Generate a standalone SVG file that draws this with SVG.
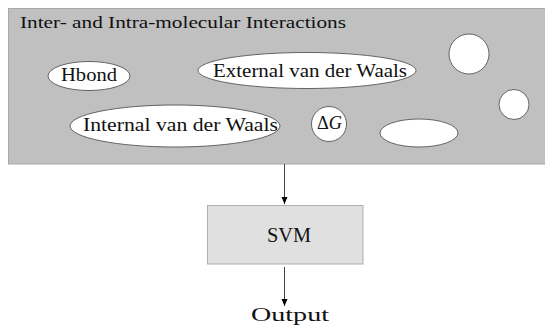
<svg xmlns="http://www.w3.org/2000/svg" width="545" height="325" viewBox="0 0 545 325" font-family="'Liberation Serif', 'DejaVu Serif', serif">
<style>
text{font-family:'Liberation Serif','DejaVu Serif',serif;fill:#111}
.oval{fill:#fff;stroke:#444;stroke-width:0.8}
.conn{stroke:#444;stroke-width:1;fill:none}
</style>
<defs>
<marker id="ah" markerWidth="8" markerHeight="8" refX="7" refY="4" orient="auto" markerUnits="userSpaceOnUse">
<path d="M0,1 L7,4 L0,7 Z" fill="#000"/>
</marker>
</defs>
<rect width="545" height="325" fill="#fff"/>
<g id="panel">
<rect x="8.5" y="8.5" width="537" height="155.5" fill="#c0c0c0" stroke="#a8a8a8" stroke-width="1"/>
<text x="20" y="27.5" font-size="17" textLength="326" lengthAdjust="spacingAndGlyphs">Inter- and Intra-molecular Interactions</text>
</g>
<g id="hbond">
<ellipse class="oval" cx="89" cy="76" rx="41" ry="14.5"/>
<text x="89" y="80.5" font-size="19" text-anchor="middle" textLength="56" lengthAdjust="spacingAndGlyphs">Hbond</text>
</g>
<g id="external">
<ellipse class="oval" cx="307" cy="70.5" rx="109" ry="18"/>
<text x="310" y="77" font-size="19" text-anchor="middle" textLength="194" lengthAdjust="spacingAndGlyphs">External van der Waals</text>
</g>
<g id="internal">
<ellipse class="oval" cx="175" cy="126" rx="105" ry="21"/>
<text x="180.5" y="130.5" font-size="19" text-anchor="middle" textLength="195" lengthAdjust="spacingAndGlyphs">Internal van der Waals</text>
</g>
<g id="deltaG">
<circle class="oval" cx="329" cy="124" r="17.5"/>
<text x="329.5" y="128.5" font-size="18" text-anchor="middle" textLength="25" lengthAdjust="spacingAndGlyphs">Δ<tspan font-style="italic">G</tspan></text>
</g>
<g id="blank-ellipse">
<ellipse class="oval" cx="419" cy="133" rx="39" ry="14"/>
</g>
<g id="circle-top">
<circle class="oval" cx="469" cy="54" r="20"/>
</g>
<g id="circle-right">
<circle class="oval" cx="514" cy="104.5" r="15"/>
</g>
<g id="svm">
<rect x="207.5" y="205.5" width="155.5" height="58.5" fill="#e0e0e0" stroke="#b0b0b0" stroke-width="1"/>
<text x="289" y="242" font-size="20" text-anchor="middle" textLength="44" lengthAdjust="spacingAndGlyphs">SVM</text>
</g>
<g id="output">
<text x="290" y="320.5" font-size="18" text-anchor="middle" textLength="78" lengthAdjust="spacingAndGlyphs">Output</text>
</g>
<g id="connectors">
<line class="conn" x1="284.5" y1="164" x2="284.5" y2="204" marker-end="url(#ah)"/>
<line class="conn" x1="284.5" y1="267" x2="284.5" y2="306" marker-end="url(#ah)"/>
</g>
</svg>
